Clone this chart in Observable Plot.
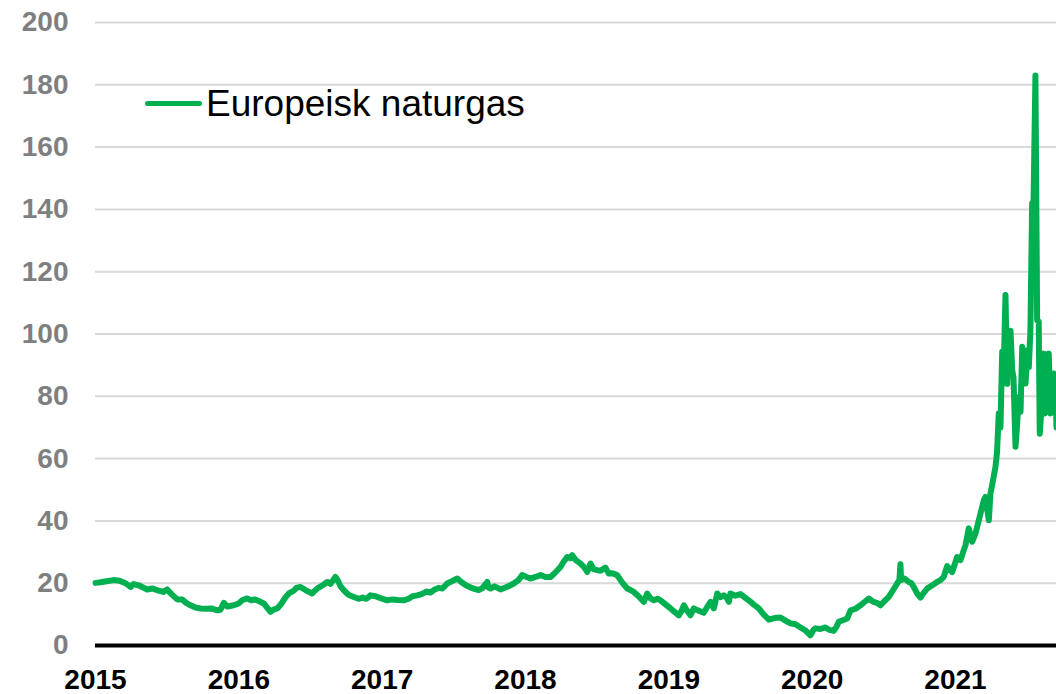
<!DOCTYPE html>
<html>
<head>
<meta charset="utf-8">
<script src="https://cdn.jsdelivr.net/npm/d3@7"></script>
<script src="https://cdn.jsdelivr.net/npm/@observablehq/plot@0.6"></script>
<style>
  html, body { margin: 0; padding: 0; background: #fff; }
  #wrap { position: relative; width: 1056px; height: 694px; font-family: "Liberation Sans", Arial, sans-serif; }
  #legend-line { position: absolute; left: 145px; top: 101px; width: 57px; height: 5px; background: #00b050; border-radius: 3px; }
  #legend-text { position: absolute; left: 206px; top: 85px; font-size: 37px; line-height: 37px; color: #000; white-space: nowrap; }
</style>
</head>
<body>
<div id="wrap">
  <div id="chart"></div>
  <div id="legend-line"></div>
  <div id="legend-text">Europeisk naturgas</div>
</div>
<script>
// Position along the time axis in years (category axis, labels at each year start)
const years = [
  2015.000, 2015.035, 2015.077, 2015.126, 2015.167, 2015.209, 2015.244, 2015.265, 2015.307, 2015.361,
  2015.398, 2015.440, 2015.474, 2015.500, 2015.530, 2015.570, 2015.605, 2015.635, 2015.663, 2015.698,
  2015.733, 2015.774, 2015.809, 2015.849, 2015.872, 2015.895, 2015.921, 2015.965, 2015.998,
  2016.026, 2016.058, 2016.088, 2016.109, 2016.139, 2016.174, 2016.200, 2016.221, 2016.242, 2016.268,
  2016.298, 2016.326, 2016.349, 2016.381, 2016.402, 2016.430, 2016.465, 2016.512, 2016.528, 2016.556,
  2016.584, 2016.617, 2016.640, 2016.674, 2016.695, 2016.709, 2016.737, 2016.765, 2016.802, 2016.835,
  2016.863, 2016.891, 2016.919, 2016.953, 2016.988,
  2017.035, 2017.072, 2017.107, 2017.151, 2017.184, 2017.212, 2017.245, 2017.275, 2017.309, 2017.337,
  2017.360, 2017.393, 2017.421, 2017.454, 2017.484, 2017.524, 2017.554, 2017.582, 2017.617, 2017.644,
  2017.674, 2017.700, 2017.733, 2017.742, 2017.756, 2017.784, 2017.826, 2017.861, 2017.888, 2017.918,
  2017.951, 2017.977,
  2018.007, 2018.035, 2018.070, 2018.105, 2018.140, 2018.175, 2018.209, 2018.244, 2018.265, 2018.291,
  2018.314, 2018.326, 2018.349, 2018.384, 2018.412, 2018.431, 2018.454, 2018.475, 2018.500, 2018.523,
  2018.558, 2018.581, 2018.607, 2018.640, 2018.670, 2018.710, 2018.733, 2018.756, 2018.789, 2018.826,
  2018.849, 2018.872, 2018.895, 2018.921, 2018.942, 2018.977,
  2019.012, 2019.040, 2019.070, 2019.088, 2019.105, 2019.123, 2019.151, 2019.174, 2019.207, 2019.244,
  2019.270, 2019.291, 2019.314, 2019.338, 2019.361, 2019.384, 2019.402, 2019.419, 2019.430, 2019.465,
  2019.500, 2019.528, 2019.558, 2019.591, 2019.628, 2019.661, 2019.698, 2019.737, 2019.779, 2019.814,
  2019.849, 2019.884, 2019.919, 2019.954, 2019.988,
  2020.009, 2020.023, 2020.058, 2020.093, 2020.121, 2020.151, 2020.170, 2020.186, 2020.219, 2020.245,
  2020.268, 2020.303, 2020.337, 2020.372, 2020.395, 2020.428, 2020.456, 2020.477, 2020.505, 2020.535,
  2020.561, 2020.593, 2020.609, 2020.616, 2020.621, 2020.644, 2020.674, 2020.693, 2020.709, 2020.735,
  2020.756, 2020.777, 2020.803, 2020.833, 2020.872, 2020.896, 2020.918, 2020.942, 2020.977,
  2021.012, 2021.035, 2021.058, 2021.070, 2021.093, 2021.117, 2021.140, 2021.163, 2021.198, 2021.209,
  2021.233, 2021.244, 2021.258, 2021.279, 2021.290, 2021.302, 2021.314, 2021.326, 2021.335, 2021.349,
  2021.361, 2021.370, 2021.384, 2021.396, 2021.405, 2021.419, 2021.429, 2021.442, 2021.454, 2021.466,
  2021.475, 2021.489, 2021.503, 2021.512, 2021.523, 2021.535, 2021.544, 2021.558, 2021.570, 2021.581,
  2021.588, 2021.600, 2021.616, 2021.623, 2021.635, 2021.651, 2021.663, 2021.673, 2021.686, 2021.698,
  2021.705
];

// Europeisk naturgas (price level)
const gasPrice = [
  20.1, 20.3, 20.6, 21.0, 20.8, 20.0, 18.8, 19.7, 19.2, 18.0,
  18.3, 17.6, 17.2, 18.0, 16.5, 14.8, 14.8, 13.6, 12.9, 12.2,
  11.9, 11.8, 11.9, 11.3, 11.5, 13.7, 12.5, 12.9, 13.5,
  14.6, 15.1, 14.5, 14.8, 14.3, 13.5, 12.0, 10.8, 11.5, 11.9,
  13.5, 15.5, 16.7, 17.5, 18.5, 18.8, 17.8, 16.7, 17.5, 18.6,
  19.3, 20.4, 19.8, 22.0, 20.5, 19.0, 17.5, 16.3, 15.6, 15.0,
  15.4, 15.0, 16.1, 15.8, 15.2,
  14.5, 14.8, 14.6, 14.5, 15.0, 15.8, 16.1, 16.5, 17.3, 17.0,
  17.8, 18.5, 18.3, 19.9, 20.6, 21.5, 20.3, 19.4, 18.6, 18.2,
  17.8, 18.4, 20.4, 18.6, 18.3, 19.0, 18.0, 18.6, 19.2, 19.9,
  21.0, 22.6,
  22.0, 21.5, 22.0, 22.6, 22.0, 22.0, 23.5, 25.2, 26.8, 28.4,
  28.0, 29.0, 27.5, 26.3, 25.0, 23.6, 26.3, 24.5, 24.2, 24.0,
  25.0, 23.1, 23.2, 22.6, 20.5, 18.3, 17.8, 17.2, 15.8, 14.0,
  16.7, 15.2, 14.5, 15.0, 14.5, 13.2,
  11.9, 10.8, 9.7, 11.0, 12.9, 11.5, 9.7, 11.9, 11.2, 10.5,
  12.5, 14.0, 11.9, 16.7, 15.5, 16.1, 15.5, 14.0, 16.7, 16.0,
  16.5, 15.5, 14.5, 13.2, 11.9, 10.0, 8.3, 8.8, 9.0, 8.0,
  7.1, 6.8, 5.8, 4.8, 3.3,
  5.0, 5.5, 5.3, 5.8, 5.0, 4.7, 6.0, 7.6, 8.2, 8.7,
  11.3, 11.8, 12.9, 14.2, 15.1, 14.0, 13.6, 12.9, 14.3, 15.6,
  17.5, 19.9, 21.0, 26.1, 21.0, 21.5, 20.4, 20.0, 18.8, 16.5,
  15.4, 16.8, 18.3, 19.2, 20.4, 21.0, 22.0, 25.5, 23.6,
  28.4, 27.4, 30.6, 32.2, 37.6, 33.3, 36.0, 40.2, 46.6, 47.7,
  40.2, 48.8, 52.0, 57.3, 62.0, 74.5, 70.0, 94.3, 85.0, 112.5,
  84.0, 100.0, 101.0, 88.4, 86.0, 63.8, 70.0, 79.8, 75.0, 95.9,
  92.0, 84.1, 94.8, 89.4, 101.2, 142.0, 140.0, 183.0, 104.4, 104.0,
  68.0, 76.0, 93.7, 74.5, 76.0, 93.7, 74.5, 78.0, 87.3, 80.9,
  70.0
];

const xTicks = [2015, 2016, 2017, 2018, 2019, 2020, 2021];
const yTicks = [0, 20, 40, 60, 80, 100, 120, 140, 160, 180, 200];
const xEnd = 2021.705;

const data = years.map((t, i) => ({t, v: gasPrice[i]}));

const chart = Plot.plot({
  width: 1056,
  height: 694,
  marginLeft: 95,
  marginRight: 0,
  marginTop: 22,
  marginBottom: 49,
  style: {fontFamily: "'Liberation Sans', Arial, sans-serif", background: "#fff", overflow: "visible"},
  x: {domain: [2015, xEnd], ticks: xTicks},
  y: {domain: [0, 200], ticks: yTicks},
  marks: [
    Plot.gridY(yTicks, {stroke: "#d9d9d9", strokeOpacity: 1, strokeWidth: 2}),
    Plot.axisY(yTicks, {tickSize: 0, tickPadding: 27, fill: "#7f7f7f", fontSize: 28, fontWeight: "bold", label: null}),
    Plot.axisX(xTicks, {tickSize: 0, tickPadding: 24, tickFormat: d => String(d), fill: "#000", fontSize: 28, fontWeight: "bold", label: null}),
    Plot.line(data, {x: "t", y: "v", stroke: "#00b050", strokeWidth: 6, strokeLinejoin: "round", strokeLinecap: "round"}),
    Plot.ruleY([0], {stroke: "#000", strokeWidth: 4})
  ]
});
document.getElementById("chart").appendChild(chart);
</script>
</body>
</html>
